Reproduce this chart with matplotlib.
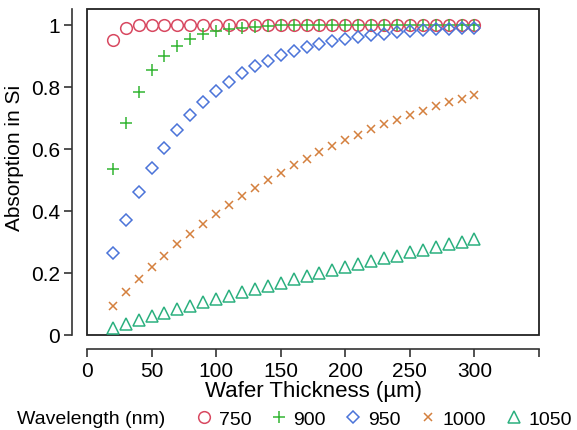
import numpy as np
import matplotlib
matplotlib.use("Agg")
import matplotlib.pyplot as plt
from matplotlib.patches import Rectangle
from matplotlib.lines import Line2D

plt.rcParams["font.family"] = ["Liberation Sans", "DejaVu Sans"]

# Espesores de oblea (um)
espesor = list(range(20, 310, 10))

abs_750 = [0.950, 0.989, 0.997, 0.999] + [1.0] * 25
abs_900 = [0.535, 0.683, 0.784, 0.853, 0.900, 0.932, 0.953, 0.968, 0.978,
           0.985, 0.990, 0.993, 0.995, 0.997, 0.998, 0.999, 0.999, 0.999,
           1.0, 1.0, 1.0, 1.0, 1.0, 1.0, 1.0, 1.0, 1.0, 1.0, 1.0]
abs_950 = [0.265, 0.370, 0.460, 0.537, 0.603, 0.660, 0.708, 0.750, 0.786,
           0.816, 0.843, 0.865, 0.884, 0.901, 0.915, 0.927, 0.937, 0.946,
           0.954, 0.961, 0.966, 0.971, 0.975, 0.979, 0.982, 0.984, 0.987,
           0.989, 0.990]
abs_1000 = [0.094, 0.137, 0.179, 0.218, 0.256, 0.292, 0.326, 0.358, 0.389,
            0.419, 0.447, 0.473, 0.499, 0.523, 0.546, 0.567, 0.588, 0.608,
            0.627, 0.645, 0.662, 0.678, 0.694, 0.708, 0.723, 0.736, 0.749,
            0.761, 0.772]
abs_1050 = [0.024, 0.036, 0.048, 0.060, 0.071, 0.083, 0.094, 0.105, 0.116,
            0.127, 0.138, 0.148, 0.159, 0.169, 0.180, 0.190, 0.200, 0.209,
            0.219, 0.229, 0.238, 0.247, 0.256, 0.266, 0.275, 0.284, 0.292,
            0.301, 0.310]

etiquetas = ["750", "900", "950", "1000", "1050"]
series = [abs_750, abs_900, abs_950, abs_1000, abs_1050]
marcadores = ["o", "+", "D", "x", "^"]
colores = ["#d84860", "#33b533", "#4b74d9", "#d4803e", "#2bb07f"]
tamanos = [8.4, 8.2, 5.8, 6.0, 8.6]

fig = plt.figure(figsize=(5.77, 4.31), dpi=100)
ax = fig.add_axes([87 / 577, 1 - 336 / 431, (539 - 87) / 577, (336 - 10) / 431])

for y, m, c, s in zip(series, marcadores, colores, tamanos):
    ax.plot(espesor, y, linestyle="none", marker=m, markersize=s,
            markerfacecolor="none", markeredgecolor=c, markeredgewidth=1.1)

ax.set_xlim(0, 350)
ax.set_ylim(0, 1.05)
ax.set_xticks(range(0, 351, 50))
ax.set_xticklabels([str(v) for v in range(0, 301, 50)] + [""])
ax.set_yticks([0, 0.2, 0.4, 0.6, 0.8, 1.0])
ax.set_yticklabels(["0", "0.2", "0.4", "0.6", "0.8", "1"])

for lado in ["top", "right"]:
    ax.spines[lado].set_visible(False)
ax.spines["left"].set_position(("outward", 11))
ax.spines["bottom"].set_position(("outward", 10))
for lado in ["left", "bottom"]:
    ax.spines[lado].set_color("#333333")
    ax.spines[lado].set_linewidth(1.2)
ax.tick_params(direction="out", length=5.5, width=1.2, color="#333333",
               labelsize=15, pad=3)

# Marco alrededor del área de datos
ax.add_patch(Rectangle((0, 0), 1, 1, transform=ax.transAxes, fill=False,
                       edgecolor="#222222", linewidth=1.3, clip_on=False))

ax.set_xlabel("Wafer Thickness (µm)", fontsize=16, labelpad=0)
ax.set_ylabel("Absorption in Si", fontsize=15)
ax.yaxis.set_label_coords(-0.139, 0.546)

# Leyenda horizontal abajo
fig.text(17 / 577, 1 - 420 / 431, "Wavelength (nm)", fontsize=14,
         va="center", ha="left")
manejadores = [Line2D([], [], linestyle="none", marker=m, markersize=s,
                      markerfacecolor="none", markeredgecolor=c,
                      markeredgewidth=1.1)
               for m, c, s in zip(marcadores, colores, tamanos)]
fig.legend(manejadores, etiquetas, loc="center left", ncol=5,
           bbox_to_anchor=(196 / 577, 1 - 420 / 431), frameon=False,
           fontsize=14, handlelength=0.8, handletextpad=0.37,
           columnspacing=1.0, borderpad=0, borderaxespad=0)

fig.savefig("out.png", dpi=100)
